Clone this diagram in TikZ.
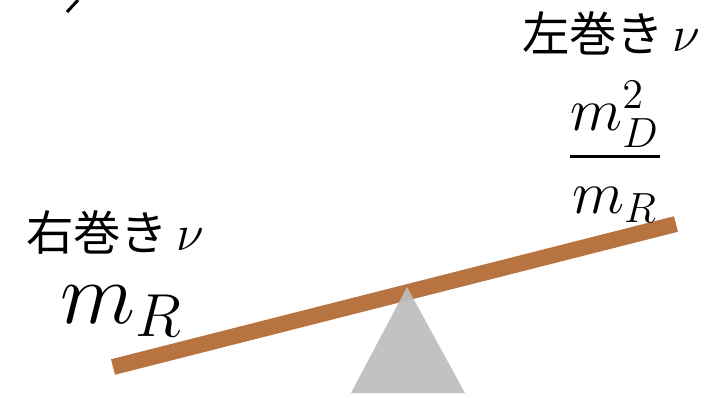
\documentclass[tikz,border=0pt]{standalone}
\usepackage{amsmath}
\usepackage{fontspec}
\newfontfamily\jpfont{Noto Sans CJK JP}
\usetikzlibrary{positioning}
\definecolor{plank}{HTML}{B87440}
\definecolor{pivot}{HTML}{BDBDBD}

\begin{document}
\begin{tikzpicture}[
    lab/.style={font=\jpfont\fontsize{13.5}{16}\selectfont,inner sep=0pt},
    bar/.style={draw=plank,line width=0.16cm},
    fulcrum/.style={fill=pivot,opacity=0.92}]
\useasboundingbox (0,0) rectangle (7.12,3.97);
\coordinate (bl) at (1.13,0.30);
\coordinate (br) at (6.76,1.73);
\draw[bar] (bl)--(br);
\coordinate (apex) at (4.07,1.10);
\fill[fulcrum] (apex)--(3.51,0.04)--(4.65,0.04)--cycle;
\node[lab] (rlab) at (1.15,1.65) {右巻き\,$\nu$};
\node[inner sep=0pt,font=\fontsize{27}{30}\selectfont] (mr) at (1.22,0.86) {$m_R$};
\node[lab] (llab) at (6.11,3.64) {左巻き\,$\nu$};
\node[inner sep=0pt,font=\fontsize{18}{21}\selectfont] (seesaw) at (6.15,2.45) {$\dfrac{m_D^2}{m_R}$};
\draw[line width=0.03cm] (0.67,3.85)--(0.78,3.97);
\end{tikzpicture}
\end{document}
